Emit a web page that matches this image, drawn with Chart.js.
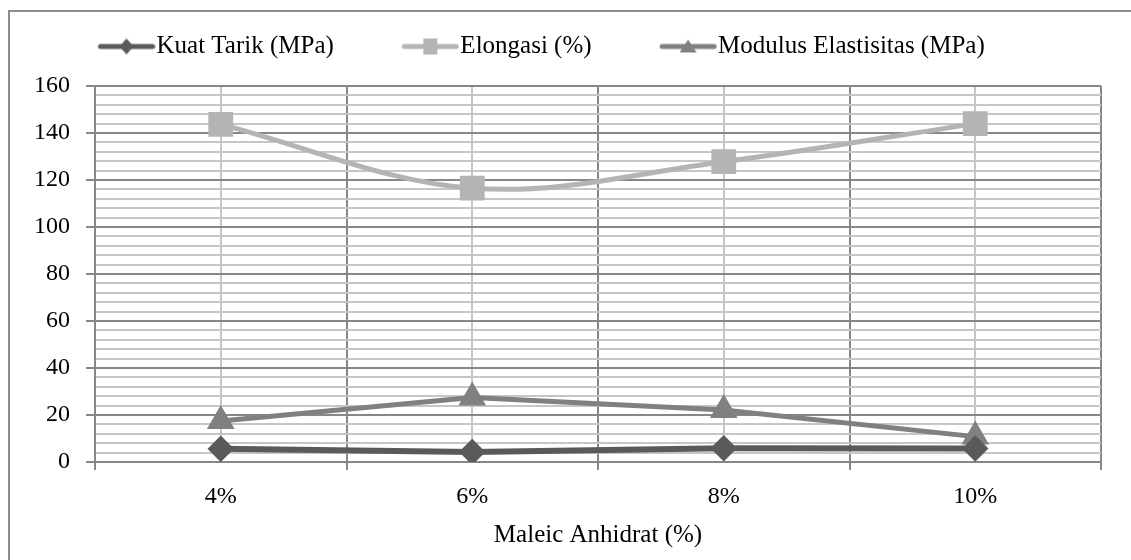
<!DOCTYPE html>
<html>
<head>
<meta charset="utf-8">
<script src="https://cdn.jsdelivr.net/npm/chart.js@4.4.1/dist/chart.umd.min.js"></script>
<style>
  html, body { margin: 0; padding: 0; background: #fff; overflow: hidden; }
  #bingkai { position: absolute; left: 8px; top: 10px; width: 1200px; height: 600px;
    border-left: 2px solid #8c8c8c; border-top: 2px solid #8c8c8c; }
  #wadah { position: absolute; left: 0; top: 0; width: 1131px; height: 560px; }
</style>
</head>
<body>
<div id="bingkai"></div>
<div id="wadah"><canvas id="grafik"></canvas></div>
<script>
const kategori = ['4%', '6%', '8%', '10%'];
const kuatTarik = [5.6, 4.3, 5.9, 5.7];
const elongasi = [143.7, 116.5, 127.8, 144.0];
const modulus = [17.4, 27.4, 22.1, 10.8];
const labelY = [0, 20, 40, 60, 80, 100, 120, 140, 160];

const warnaKuat = '#5a5a5a';
const warnaElong = '#b4b4b4';
const warnaMod = '#808080';
const gridGelap = '#878787';
const gridTerang = '#c6c6c6';

const fontHuruf = "'Liberation Serif', 'Times New Roman', serif";
const lebarBox = 104;

// gambar kecil untuk legenda: garis + penanda
function contohLegend(warna, bentuk) {
  const c = document.createElement('canvas');
  c.width = lebarBox + 23;
  c.height = 22;
  const g = c.getContext('2d');
  const x1 = c.width - 57, x2 = c.width - 1, cy = 11, cx = (x1 + x2) / 2;
  g.strokeStyle = warna;
  g.lineWidth = 5;
  g.lineCap = 'round';
  g.beginPath(); g.moveTo(x1 + 2, cy); g.lineTo(x2 - 2, cy); g.stroke();
  g.fillStyle = warna;
  g.beginPath();
  if (bentuk === 'rectRot') {
    g.moveTo(cx, cy - 8); g.lineTo(cx + 7, cy); g.lineTo(cx, cy + 8); g.lineTo(cx - 7, cy);
  } else if (bentuk === 'rect') {
    g.rect(cx - 7, cy - 8, 14, 16);
  } else {
    g.moveTo(cx, cy - 7); g.lineTo(cx + 8.5, cy + 6); g.lineTo(cx - 8.5, cy + 6);
  }
  g.closePath();
  g.fill();
  return c;
}

const ctx = document.getElementById('grafik').getContext('2d');
new Chart(ctx, {
  type: 'line',
  data: {
    labels: kategori,
    datasets: [{
      label: 'Kuat Tarik (MPa)',
      data: kuatTarik,
      borderColor: warnaKuat,
      backgroundColor: warnaKuat,
      borderWidth: 6,
      pointStyle: 'rectRot',
      pointRadius: 9,
      tension: 0
    }, {
      label: 'Elongasi (%)',
      data: elongasi,
      borderColor: warnaElong,
      backgroundColor: warnaElong,
      borderWidth: 5,
      pointStyle: 'rect',
      pointRadius: 14,
      tension: 0.35
    }, {
      label: 'Modulus Elastisitas (MPa)',
      data: modulus,
      borderColor: warnaMod,
      backgroundColor: warnaMod,
      borderWidth: 5,
      pointStyle: 'triangle',
      pointRadius: 11,
      tension: 0
    }]
  },
  options: {
    responsive: true,
    maintainAspectRatio: false,
    animation: false,
    layout: { padding: { top: 24, right: 30, bottom: 0, left: 30 } },
    plugins: {
      tooltip: { enabled: false },
      legend: {
        position: 'top',
        align: 'start',
        labels: {
          usePointStyle: true,
          pointStyleWidth: lebarBox,
          padding: 10,
          color: '#000',
          font: { family: fontHuruf, size: 25 },
          generateLabels: function (chart) {
            const item = Chart.defaults.plugins.legend.labels.generateLabels(chart);
            const bentuk = ['rectRot', 'rect', 'triangle'];
            item.forEach(function (it, i) {
              it.pointStyle = contohLegend(chart.data.datasets[i].borderColor, bentuk[i]);
            });
            return item;
          }
        }
      }
    },
    scales: {
      x: {
        type: 'category',
        offset: true,
        grid: { offset: true, color: gridGelap, lineWidth: 2, tickLength: 8, tickColor: gridGelap },
        border: { color: gridGelap, width: 2 },
        ticks: { color: '#000', font: { family: fontHuruf, size: 24 }, padding: 12 },
        title: { display: true, text: 'Maleic Anhidrat (%)', color: '#000',
          font: { family: fontHuruf, size: 25 }, padding: { top: 0, bottom: 10 } },
        afterFit: function (s) { s.height = 98; }
      },
      x2: {
        type: 'category',
        position: 'top',
        labels: kategori,
        offset: true,
        grid: { offset: false, color: gridTerang, lineWidth: 2, drawTicks: false },
        border: { display: false },
        ticks: { display: false },
        afterFit: function (s) { s.height = 17; }
      },
      y: {
        min: 0,
        max: 160,
        ticks: {
          stepSize: 4,
          autoSkip: false,
          color: '#000',
          padding: 16,
          font: { family: fontHuruf, size: 24 },
          callback: function (v) { return labelY.includes(v) ? v : ''; }
        },
        grid: {
          lineWidth: 2,
          tickLength: 9,
          color: function (c) { return labelY.includes(c.tick.value) ? gridGelap : gridTerang; },
          tickColor: function (c) { return labelY.includes(c.tick.value) ? gridGelap : 'rgba(0,0,0,0)'; }
        },
        border: { color: gridGelap, width: 2 },
        afterFit: function (s) { s.width = 65; }
      }
    }
  }
});
</script>
</body>
</html>
